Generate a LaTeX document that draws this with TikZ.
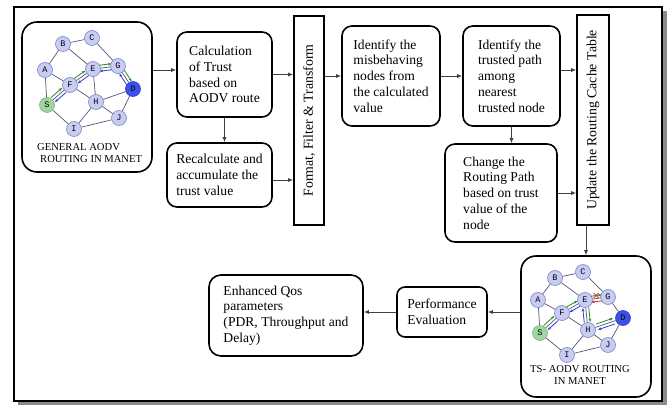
\documentclass[tikz,border=0pt]{standalone}
\usepackage{fontspec}
\setmainfont{Liberation Serif}
\setmonofont{Liberation Mono}
\usetikzlibrary{calc,arrows.meta}
\definecolor{gfill}{RGB}{200,204,242}
\definecolor{gnode}{RGB}{125,135,200}
\definecolor{gedge}{RGB}{85,85,115}
\definecolor{ggreen}{RGB}{40,135,40}
\definecolor{gblue}{RGB}{50,60,205}
\definecolor{gred}{RGB}{205,40,40}
\definecolor{sfill}{RGB}{160,212,160}
\definecolor{dfill}{RGB}{60,80,232}
\newcommand\parr[3]{\draw[#1] ($($(#2)!0.26!(#3)$)!3pt!90:(#3)$) -- ($($(#2)!0.74!(#3)$)!3pt!-90:(#2)$);}
\begin{document}
\begin{tikzpicture}[x=1pt,y=-1pt,
  box/.style={draw=black, line width=1.6pt, rounded corners=10pt, align=left,
    font=\fontsize{13.6}{15.8}\selectfont, inner sep=0pt},
  vbox/.style={draw=black, line width=1.6pt, inner sep=0pt, rotate=90,
    font=\fontsize{13.8}{15.8}\selectfont},
  arr/.style={draw=black!75, line width=0.8pt, -{Latex[length=5pt,width=4pt]}},
  gn/.style={circle, draw=gnode, fill=gfill, line width=0.6pt, minimum size=15pt,
    inner sep=0pt, font=\ttfamily\fontsize{8.5}{8.5}\selectfont},
  ge/.style={draw=gedge, line width=0.7pt},
  garr/.style={draw=ggreen, line width=0.8pt, -{Stealth[length=3.4pt,width=2.8pt]}},
  barr/.style={draw=gblue, line width=0.8pt, -{Stealth[length=3.4pt,width=2.8pt]}},
  rarr/.style={draw=gred, line width=0.8pt, -{Stealth[length=3.4pt,width=2.8pt]}},
  lbl/.style={inner sep=0pt, font=\fontsize{10.6}{12}\selectfont}
]
\useasboundingbox (0,0) rectangle (670,406);
% frame with shadow
\fill[black!45] (18,11) rectangle (667,405);
\draw[line width=1.8pt, fill=white] (14,7) rectangle (662,401);

% boxes
\node[box, rounded corners=15pt, minimum width=130pt, minimum height=150pt] (gen) at (87,97) {};
\node[box, minimum width=95pt, minimum height=85pt] (calc) at (224.5,74.5) {Calculation\\of Trust\\based on\\AODV route};
\node[box, minimum width=105pt, minimum height=64pt] (recalc) at (219.5,175) {Recalculate and\\accumulate the\\trust value};
\node[vbox, minimum width=209pt, minimum height=30pt] (fmt) at (309,120.5) {Format, Filter \& Transform};
\node[box, minimum width=98pt, minimum height=100pt] (mis) at (391,76) {Identify the\\misbehaving\\nodes from\\the calculated\\value};
\node[box, minimum width=97pt, minimum height=100pt] (trust) at (511.5,76) {Identify the\\trusted path\\among\\nearest\\trusted node};
\node[box, minimum width=112pt, minimum height=98pt] (chg) at (501,193) {Change the\\Routing Path\\based on trust\\value of the\\node};
\node[vbox, minimum width=210pt, minimum height=32pt] (upd) at (593,120) {Update the Routing Cache Table};
\node[box, rounded corners=15pt, minimum width=130pt, minimum height=141pt] (ts) at (586,326.5) {};
\node[box, rounded corners=8pt, minimum width=90pt, minimum height=50pt] (perf) at (442,312) {Performance\\Evaluation};
\node[box, rounded corners=12pt, minimum width=154pt, minimum height=81pt] (enh) at (286,315.5) {Enhanced Qos\\parameters\\(PDR, Throughput and\\Delay)};

% connectors
\draw[arr] ([yshift=4.5pt]gen.east |- calc.west) -- ([yshift=4.5pt]calc.west);
\draw[arr] (calc.south) -- (calc.south |- recalc.north);
\draw[arr] (calc.east) -- (calc.east -| fmt.north);
\draw[arr] ([yshift=-5pt]recalc.east) -- ([yshift=-5pt]recalc.east -| fmt.north);
\draw[arr] (fmt.south |- mis.west) -- (mis.west);
\draw[arr] (mis.east) -- (mis.east -| trust.west);
\draw[arr] ([yshift=6pt]trust.east) -- ([yshift=6pt]trust.east -| upd.north);
\draw[arr] (trust.south) -- (trust.south |- chg.north);
\draw[arr] (chg.east) -- (chg.east -| upd.north);
\draw[arr] (ts.north |- upd.west) -- (ts.north);
\draw[arr] (ts.west |- perf.east) -- (perf.east);
\draw[arr] (perf.west) -- (perf.west -| enh.east);

% graph 1
\node[gn] (aA) at (45,70) {A};
\node[gn] (aB) at (63,44) {B};
\node[gn] (aC) at (92,38) {C};
\node[gn] (aE) at (93,69) {E};
\node[gn] (aG) at (118,66) {G};
\node[gn] (aF) at (70,85) {F};
\node[gn, fill=dfill, draw=gblue] (aD) at (133,89) {D};
\node[gn, fill=sfill, draw=ggreen!60] (aS) at (47,105) {S};
\node[gn] (aH) at (96,102) {H};
\node[gn] (aJ) at (119,118) {J};
\node[gn] (aI) at (74,129) {I};
\foreach \u/\v in {A/B,B/C,B/E,C/G,A/S,A/F,F/E,F/S,F/H,E/H,E/G,G/D,H/D,H/J,H/I,I/J,S/I,J/D}
  \draw[ge] (a\u) -- (a\v);
\parr{garr}{aS}{aF}
\parr{garr}{aF}{aE}
\parr{garr}{aE}{aG}
\parr{garr}{aG}{aD}
\parr{barr}{aD}{aG}
\parr{barr}{aG}{aE}
\parr{barr}{aE}{aF}
\parr{barr}{aF}{aS}
\node[lbl, align=left, anchor=north west] (genlbl) at (37,143) {GENERAL AODV\\\hspace*{3pt}ROUTING IN MANET};

% graph 2
\node[gn] (bA) at (538,300) {A};
\node[gn] (bB) at (555,278) {B};
\node[gn] (bC) at (583,272) {C};
\node[gn] (bE) at (585,300) {E};
\node[gn] (bG) at (608,297) {G};
\node[gn] (bF) at (562,313) {F};
\node[gn, fill=dfill, draw=gblue] (bD) at (623,318) {D};
\node[gn, fill=sfill, draw=ggreen!60] (bS) at (540,333) {S};
\node[gn] (bH) at (588,330) {H};
\node[gn] (bJ) at (608,345) {J};
\node[gn] (bI) at (567,355) {I};
\foreach \u/\v in {A/B,B/C,B/E,C/G,A/S,A/F,F/E,F/S,F/H,E/H,E/G,G/D,H/D,H/J,H/I,I/J,S/I,J/D}
  \draw[ge] (b\u) -- (b\v);
\parr{garr}{bS}{bF}
\parr{garr}{bF}{bE}
\parr{garr}{bE}{bG}
\parr{rarr}{bG}{bE}
\parr{garr}{bE}{bH}
\parr{garr}{bH}{bD}
\parr{barr}{bD}{bH}
\parr{barr}{bH}{bE}
\parr{barr}{bE}{bF}
\parr{barr}{bF}{bS}
\coordinate (xm) at ($($(bE)!0.5!(bG)$)!3pt!90:(bG)$);
\draw[gred, line width=0.7pt] ([shift={(-2.5,-2.5)}]xm) -- ([shift={(2.5,2.5)}]xm)
  ([shift={(-2.5,2.5)}]xm) -- ([shift={(2.5,-2.5)}]xm);
\node[lbl, align=center] (tslbl) at (580,375) {TS- AODV ROUTING\\IN MANET};
\end{tikzpicture}
\end{document}
